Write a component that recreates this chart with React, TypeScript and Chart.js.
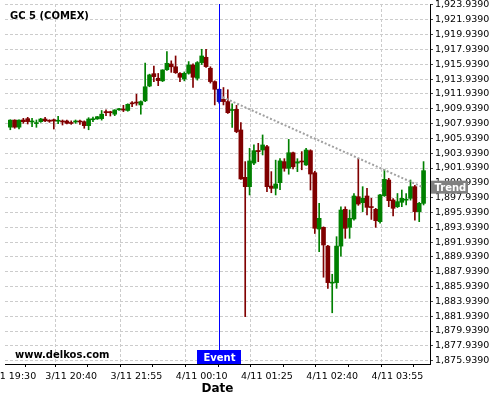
import React, { useEffect, useRef } from 'react';
import { Chart, registerables } from 'chart.js';

Chart.register(...registerables);

// ---- Data ----
const opens = [
  1907.45, 1908.40, 1907.45, 1908.42, 1908.60, 1908.15, 1907.93, 1908.19, 1908.55, 1908.35,
  1908.45, 1908.25, 1908.22, 1908.28, 1908.00, 1908.15, 1908.25, 1908.19, 1907.65, 1908.45,
  1908.56, 1908.60, 1909.55, 1909.50, 1909.20, 1909.80, 1909.90, 1909.70, 1910.70, 1910.80,
  1910.45, 1911.00, 1913.00, 1914.67, 1914.05, 1913.70, 1915.20, 1915.97, 1915.60, 1914.70,
  1913.95, 1914.72, 1915.84, 1914.05, 1916.16, 1916.88, 1915.40, 1913.60, 1912.56, 1911.20,
  1910.90, 1909.70, 1909.86, 1907.07, 1900.68, 1899.42, 1902.60, 1904.30, 1904.37, 1904.82,
  1899.50, 1899.20, 1899.96, 1902.80, 1901.90, 1904.00, 1902.60, 1902.85, 1902.35, 1904.28,
  1901.30, 1893.70, 1893.93, 1891.40, 1886.40, 1886.47, 1891.40, 1896.36, 1893.93, 1895.06,
  1898.07, 1897.26, 1898.16, 1896.70, 1896.36, 1894.70, 1898.20, 1900.32, 1897.62, 1896.72,
  1897.31, 1897.60, 1897.85, 1899.42, 1896.05, 1897.17,
];
const highs = [
  1908.45, 1908.45, 1908.45, 1908.64, 1908.78, 1908.64, 1908.42, 1908.64, 1908.78, 1908.45,
  1908.55, 1908.90, 1908.42, 1908.40, 1908.30, 1908.42, 1908.42, 1908.30, 1908.73, 1908.80,
  1908.90, 1909.70, 1909.80, 1909.60, 1909.80, 1910.00, 1910.40, 1910.60, 1910.90, 1911.90,
  1911.00, 1916.10, 1914.60, 1915.70, 1914.70, 1915.20, 1917.64, 1916.40, 1917.06, 1914.80,
  1914.90, 1916.30, 1916.00, 1916.30, 1917.96, 1917.96, 1915.60, 1913.70, 1912.60, 1912.80,
  1912.50, 1910.60, 1910.40, 1908.06, 1902.80, 1904.60, 1905.05, 1905.27, 1906.40, 1905.00,
  1901.45, 1903.00, 1903.20, 1903.20, 1905.80, 1904.10, 1903.20, 1904.15, 1904.60, 1904.40,
  1901.50, 1897.17, 1894.00, 1891.50, 1887.60, 1892.67, 1896.70, 1896.70, 1896.27, 1898.50,
  1903.25, 1899.42, 1899.20, 1897.85, 1896.50, 1898.40, 1901.76, 1900.55, 1897.80, 1898.50,
  1898.97, 1898.50, 1900.32, 1899.60, 1897.30, 1902.80,
];
const lows = [
  1907.10, 1907.30, 1907.20, 1907.97, 1907.88, 1907.52, 1907.43, 1908.10, 1908.19, 1908.10,
  1907.20, 1907.93, 1907.74, 1907.90, 1907.83, 1907.97, 1907.83, 1907.30, 1907.10, 1908.19,
  1908.50, 1908.40, 1909.00, 1908.95, 1909.00, 1909.70, 1909.55, 1909.60, 1910.20, 1910.40,
  1909.20, 1910.90, 1912.90, 1913.60, 1913.05, 1913.60, 1915.10, 1914.85, 1914.70, 1913.60,
  1913.70, 1914.60, 1912.80, 1913.80, 1915.90, 1915.50, 1913.40, 1910.45, 1910.70, 1910.45,
  1909.30, 1907.40, 1906.70, 1900.40, 1881.88, 1898.30, 1902.40, 1902.80, 1903.70, 1898.75,
  1898.60, 1898.30, 1899.00, 1901.50, 1901.10, 1901.80, 1901.45, 1901.70, 1902.30, 1898.97,
  1893.10, 1890.65, 1887.20, 1885.70, 1882.40, 1885.70, 1890.05, 1892.45, 1892.45, 1894.90,
  1896.90, 1896.05, 1895.60, 1895.00, 1893.93, 1894.50, 1898.10, 1896.72, 1895.46, 1896.60,
  1896.72, 1896.95, 1897.60, 1894.90, 1894.70, 1896.95,
];
const closes = [
  1908.40, 1907.45, 1908.40, 1908.19, 1908.20, 1908.25, 1908.00, 1908.55, 1908.30, 1908.25,
  1908.28, 1908.33, 1908.15, 1907.97, 1907.95, 1908.22, 1908.15, 1907.65, 1908.55, 1908.55,
  1908.86, 1909.20, 1909.40, 1909.40, 1909.77, 1909.90, 1909.75, 1910.53, 1910.60, 1910.70,
  1910.90, 1912.90, 1914.50, 1914.27, 1913.73, 1915.17, 1916.07, 1915.60, 1914.80, 1914.18,
  1914.72, 1915.84, 1914.18, 1916.16, 1917.06, 1915.62, 1913.60, 1912.56, 1910.90, 1910.90,
  1909.40, 1909.80, 1906.85, 1900.46, 1899.42, 1902.89, 1904.28, 1904.15, 1905.05, 1899.42,
  1899.20, 1899.78, 1902.90, 1901.90, 1904.00, 1902.10, 1902.78, 1902.75, 1904.37, 1901.13,
  1893.80, 1895.15, 1891.55, 1886.47, 1886.50, 1891.40, 1896.27, 1893.80, 1895.15, 1898.16,
  1897.08, 1897.85, 1896.63, 1896.60, 1894.83, 1898.30, 1900.41, 1897.53, 1896.50, 1897.40,
  1897.85, 1897.70, 1899.42, 1896.05, 1897.17, 1901.58,
];

const labelIdx = [0, 14, 29, 44, 59, 74, 89];
const labelText = ['3/11 19:30', '3/11 20:40', '3/11 21:55', '4/11 00:10', '4/11 01:25', '4/11 02:40', '4/11 03:55'];
const minorIdx = [7, 21.5, 36.5, 51.5, 66.5, 81.5];

const yTicks = [
  1875.939, 1877.939, 1879.939, 1881.939, 1883.939, 1885.939, 1887.939, 1889.939, 1891.939,
  1893.939, 1895.939, 1897.939, 1899.939, 1901.939, 1903.939, 1905.939, 1907.939, 1909.939,
  1911.939, 1913.939, 1915.939, 1917.939, 1919.939, 1921.939, 1923.939,
];

const eventIndex = 48;
const trendX = [48.8, 94.8];
const trendY = [1911.5, 1899.35];

const X_MIN = -1.22;
const X_MAX = 96.48;
const Y_MIN = 1875.49;
const Y_MAX = 1924.07;

const GREEN = '#008000';
const RED = '#800000';
const EVENT_BLUE = '#0000ff';
const GRID = '#cccccc';
const FONT = '"DejaVu Sans"';

function fmt(v: number): string {
  const s = v.toFixed(4);
  const [ip, dp] = s.split('.');
  return ip.replace(/\B(?=(\d{3})+(?!\d))/g, ',') + '.' + dp;
}

const overlayPlugin = {
  id: 'overlays',
  afterDatasetsDraw(chart: any) {
    const { ctx, chartArea, scales } = chart;
    const x = Math.round(scales.x.getPixelForValue(eventIndex)) + 0.5;
    ctx.save();
    ctx.strokeStyle = EVENT_BLUE;
    ctx.lineWidth = 1;
    ctx.beginPath();
    ctx.moveTo(x, chartArea.top);
    ctx.lineTo(x, chartArea.bottom);
    ctx.stroke();
    ctx.restore();
  },
  afterDraw(chart: any) {
    const { ctx, chartArea, scales } = chart;
    ctx.save();
    // title
    ctx.fillStyle = '#000';
    ctx.font = `bold 10px ${FONT}`;
    ctx.textBaseline = 'alphabetic';
    ctx.textAlign = 'left';
    ctx.fillText('GC 5 (COMEX)', chartArea.left + 5, chartArea.top + 15);
    // watermark
    ctx.fillText('www.delkos.com', chartArea.left + 10, chartArea.bottom - 6.5);
    // event label
    const ex = scales.x.getPixelForValue(eventIndex);
    ctx.fillStyle = EVENT_BLUE;
    ctx.fillRect(Math.round(ex) - 22, chartArea.bottom - 14, 44, 14);
    ctx.fillStyle = '#fff';
    ctx.textAlign = 'center';
    ctx.fillText('Event', Math.round(ex) + 0.5, chartArea.bottom - 3);
    // trend label
    const ty = scales.y.getPixelForValue(trendY[1]);
    ctx.fillStyle = '#808080';
    ctx.fillRect(chartArea.right + 1, ty - 6.5, 37, 13);
    ctx.fillStyle = '#fff';
    ctx.textAlign = 'left';
    ctx.fillText('Trend', chartArea.right + 4.5, ty + 4);
    ctx.restore();
  },
};

export default function App() {
  const ref = useRef<HTMLCanvasElement>(null);
  useEffect(() => {
    document.body.style.margin = '0';
    const canvas = ref.current;
    if (!canvas) return;
    const colors = closes.map((c, i) => (i === eventIndex ? '#1010b0' : c >= opens[i] ? GREEN : RED));
    const bodies = closes.map((c, i) => ({ x: i, y: [opens[i], c] }));
    const wicks = closes.map((c, i) => ({ x: i, y: [lows[i], highs[i]] }));
    const ticksAll = [...labelIdx, ...minorIdx].sort((a, b) => a - b);

    const chart = new Chart(canvas, {
      type: 'bar',
      data: {
        datasets: [
          {
            type: 'line',
            data: trendX.map((x, i) => ({ x, y: trendY[i] })),
            borderColor: '#a0a0a0',
            borderWidth: 2,
            borderDash: [2, 2],
            pointRadius: 0,
            fill: false,
            order: 0,
          } as any,
          {
            type: 'bar',
            data: bodies as any,
            backgroundColor: colors,
            barThickness: 4,
            grouped: false,
            minBarLength: 1,
            order: 1,
          } as any,
          {
            type: 'bar',
            data: wicks as any,
            backgroundColor: colors,
            barThickness: 1,
            grouped: false,
            order: 2,
          } as any,
        ],
      },
      options: {
        responsive: false,
        animation: false,
        layout: { padding: { left: 5, top: 4, right: 0, bottom: 0 } },
        plugins: {
          legend: { display: false },
          tooltip: { enabled: false },
          title: { display: false },
        },
        scales: {
          x: {
            type: 'linear',
            min: X_MIN,
            max: X_MAX,
            offset: false,
            afterBuildTicks: (s: any) => {
              s.ticks = ticksAll.map((v) => ({ value: v }));
            },
            afterFit: (s: any) => {
              s.height = 36;
              s.paddingLeft = 0;
              s.paddingRight = 0;
            },
            ticks: {
              autoSkip: false,
              maxRotation: 0,
              minRotation: 0,
              padding: 4,
              color: '#000',
              font: { family: FONT, size: 9.5 },
              callback: (v: any) => {
                const k = labelIdx.indexOf(Number(v));
                return k >= 0 ? labelText[k] : '';
              },
            },
            grid: {
              color: (ctx: any) => (ctx.tick && labelIdx.includes(ctx.tick.value) ? GRID : 'rgba(0,0,0,0)'),
              tickColor: '#000',
              tickLength: 3,
              drawTicks: true,
            },
            border: { display: true, color: '#000', width: 1, dash: [3, 2] },
            title: {
              display: true,
              text: 'Date',
              color: '#000',
              font: { family: FONT, size: 12, weight: 'bold' },
              padding: { top: 0, bottom: 4 },
            },
          } as any,
          y: {
            type: 'linear',
            position: 'right',
            min: Y_MIN,
            max: Y_MAX,
            afterBuildTicks: (s: any) => {
              s.ticks = yTicks.map((v) => ({ value: v }));
            },
            afterFit: (s: any) => {
              s.width = 70;
              s.paddingTop = 0;
              s.paddingBottom = 0;
            },
            ticks: {
              padding: 2,
              color: '#000',
              font: { family: FONT, size: 9.5 },
              callback: (v: any) => fmt(Number(v)),
            },
            grid: {
              color: GRID,
              tickColor: '#444',
              tickLength: 3,
              drawTicks: true,
            },
            border: { display: true, color: '#000', width: 1, dash: [3, 2] },
          } as any,
        },
      },
      plugins: [overlayPlugin],
    });
    return () => chart.destroy();
  }, []);

  return (
    <div style={{ width: 500, height: 400 }}>
      <canvas ref={ref} width={500} height={400} style={{ display: 'block', width: 500, height: 400 }} />
    </div>
  );
}
